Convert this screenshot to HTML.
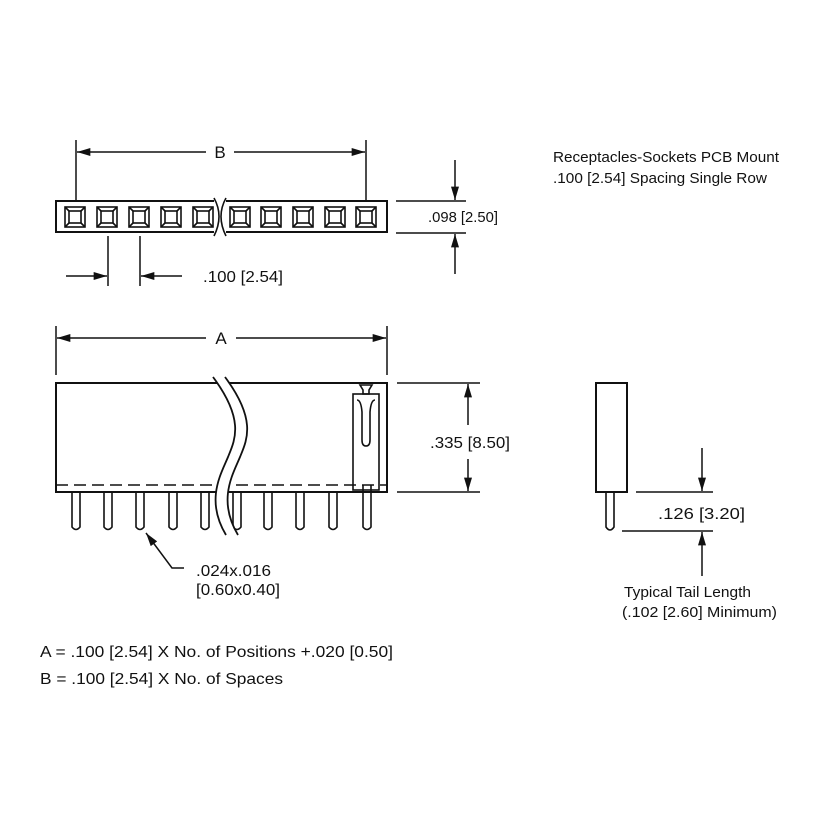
<!DOCTYPE html>
<html><head><meta charset="utf-8"><style>body{margin:0;background:#fff}svg{display:block}text{font-family:"Liberation Sans",sans-serif;fill:#111}</style></head><body>
<svg width="820" height="820" viewBox="0 0 820 820" xmlns="http://www.w3.org/2000/svg">
<defs><marker id="ar" viewBox="0 0 10 6" refX="10" refY="3" markerWidth="16" markerHeight="8" markerUnits="userSpaceOnUse" orient="auto"><path d="M0,0L10,3L0,6z" fill="#111"/></marker>
<g id="sq"><rect x="-10" y="-10" width="20" height="20"/><rect x="-6" y="-6" width="12" height="12"/><path d="M-10-10L-6-6M10-10L6-6M-10 10L-6 6M10 10L6 6"/></g></defs>
<g stroke="#111" stroke-width="2" fill="none">
<rect x="56" y="201" width="331" height="31"/>
<line x1="76" y1="140" x2="76" y2="200" stroke-width="1.5"/>
<line x1="366" y1="140" x2="366" y2="200" stroke-width="1.5"/>
<line x1="206" y1="152" x2="77" y2="152" stroke-width="1.5" marker-end="url(#ar)"/>
<line x1="234" y1="152" x2="365" y2="152" stroke-width="1.5" marker-end="url(#ar)"/>
<line x1="108" y1="236" x2="108" y2="286" stroke-width="1.5"/>
<line x1="140" y1="236" x2="140" y2="286" stroke-width="1.5"/>
<line x1="66" y1="276" x2="107" y2="276" stroke-width="1.5" marker-end="url(#ar)"/>
<line x1="182" y1="276" x2="141" y2="276" stroke-width="1.5" marker-end="url(#ar)"/>
<line x1="396" y1="201" x2="466" y2="201" stroke-width="1.5"/>
<line x1="396" y1="233" x2="466" y2="233" stroke-width="1.5"/>
<line x1="455" y1="160" x2="455" y2="200" stroke-width="1.5" marker-end="url(#ar)"/>
<line x1="455" y1="274" x2="455" y2="234" stroke-width="1.5" marker-end="url(#ar)"/>
<line x1="56" y1="326" x2="56" y2="375" stroke-width="1.5"/>
<line x1="387" y1="326" x2="387" y2="375" stroke-width="1.5"/>
<line x1="206" y1="338" x2="57" y2="338" stroke-width="1.5" marker-end="url(#ar)"/>
<line x1="236" y1="338" x2="386" y2="338" stroke-width="1.5" marker-end="url(#ar)"/>
<rect x="56" y="383" width="331" height="109"/>
<line x1="56" y1="485" x2="387" y2="485" stroke-width="1.5" stroke-dasharray="12,6"/>
<g stroke-width="1.6">
<path d="M72 492V527q4 5 8 0V492"/><path d="M104 492V527q4 5 8 0V492"/><path d="M136 492V527q4 5 8 0V492"/><path d="M169 492V527q4 5 8 0V492"/><path d="M201 492V527q4 5 8 0V492"/><path d="M233 492V527q4 5 8 0V492"/><path d="M264 492V527q4 5 8 0V492"/><path d="M296 492V527q4 5 8 0V492"/><path d="M329 492V527q4 5 8 0V492"/><path d="M363 485V527q4 5 8 0V485"/>
<rect x="353" y="394" width="26" height="96"/>
<path d="M360 385h12l-3 5v4h-6v-4z"/>
<path d="M357 400q4 0 5 12v28q0 6 4 6q4 0 4-6v-28q1-12 5-12"/>
</g>
<path d="M213 377C245 420 235 440 228 457S205 500 226 535L238 535C217 500 232 475 240 457S257 420 225 377Z" fill="#fff" stroke="none"/>
<path d="M213 377C245 420 235 440 228 457S205 500 226 535" stroke-width="1.8"/>
<path d="M225 377C257 420 247 440 240 457S217 500 238 535" stroke-width="1.8"/>
<line x1="397" y1="383" x2="480" y2="383" stroke-width="1.5"/>
<line x1="397" y1="492" x2="480" y2="492" stroke-width="1.5"/>
<line x1="468" y1="425" x2="468" y2="384" stroke-width="1.5" marker-end="url(#ar)"/>
<line x1="468" y1="459" x2="468" y2="491" stroke-width="1.5" marker-end="url(#ar)"/>
<path d="M184 568H172L146 533" stroke-width="1.5" marker-end="url(#ar)"/>
<rect x="596" y="383" width="31" height="109"/>
<path d="M606 492V527q4 6 8 0V492" stroke-width="1.6"/>
<line x1="636" y1="492" x2="713" y2="492" stroke-width="1.5"/>
<line x1="622" y1="531" x2="713" y2="531" stroke-width="1.5"/>
<line x1="702" y1="448" x2="702" y2="491" stroke-width="1.5" marker-end="url(#ar)"/>
<line x1="702" y1="576" x2="702" y2="532" stroke-width="1.5" marker-end="url(#ar)"/>
</g>
<g stroke="#111" stroke-width="1.6" fill="none">
<use href="#sq" x="75" y="217"/><use href="#sq" x="107" y="217"/><use href="#sq" x="139" y="217"/><use href="#sq" x="171" y="217"/><use href="#sq" x="203" y="217"/>
<use href="#sq" x="240" y="217"/><use href="#sq" x="271" y="217"/><use href="#sq" x="303" y="217"/><use href="#sq" x="335" y="217"/><use href="#sq" x="366" y="217"/>
</g>
<rect x="214" y="198" width="12" height="38" fill="#fff"/>
<path d="M214 198q10 18 0 38M226 198q-10 18 0 38" stroke="#111" stroke-width="1.6" fill="none"/>
<g font-size="16">
<text x="220" y="158" text-anchor="middle" font-size="17">B</text>
<text x="221" y="344" text-anchor="middle" font-size="17">A</text>
<text x="203" y="282" textLength="80" lengthAdjust="spacingAndGlyphs">.100 [2.54]</text>
<text x="428" y="222" font-size="15" textLength="70" lengthAdjust="spacingAndGlyphs">.098 [2.50]</text>
<text x="430" y="448" textLength="80" lengthAdjust="spacingAndGlyphs">.335 [8.50]</text>
<text x="196" y="576" textLength="75" lengthAdjust="spacingAndGlyphs">.024x.016</text>
<text x="196" y="595" textLength="84" lengthAdjust="spacingAndGlyphs">[0.60x0.40]</text>
<text x="658" y="519" textLength="87" lengthAdjust="spacingAndGlyphs">.126 [3.20]</text>
<text x="624" y="597" font-size="15" textLength="127" lengthAdjust="spacingAndGlyphs">Typical Tail Length</text>
<text x="622" y="617" font-size="15" textLength="155" lengthAdjust="spacingAndGlyphs">(.102 [2.60] Minimum)</text>
<text x="553" y="162" font-size="15" textLength="226" lengthAdjust="spacingAndGlyphs">Receptacles-Sockets PCB Mount</text>
<text x="553" y="183" font-size="15" textLength="214" lengthAdjust="spacingAndGlyphs">.100 [2.54] Spacing Single Row</text>
<text x="40" y="657" textLength="353" lengthAdjust="spacingAndGlyphs">A = .100 [2.54] X No. of Positions +.020 [0.50]</text>
<text x="40" y="684" textLength="243" lengthAdjust="spacingAndGlyphs">B = .100 [2.54] X No. of Spaces</text>
</g>
</svg>
</body></html>
